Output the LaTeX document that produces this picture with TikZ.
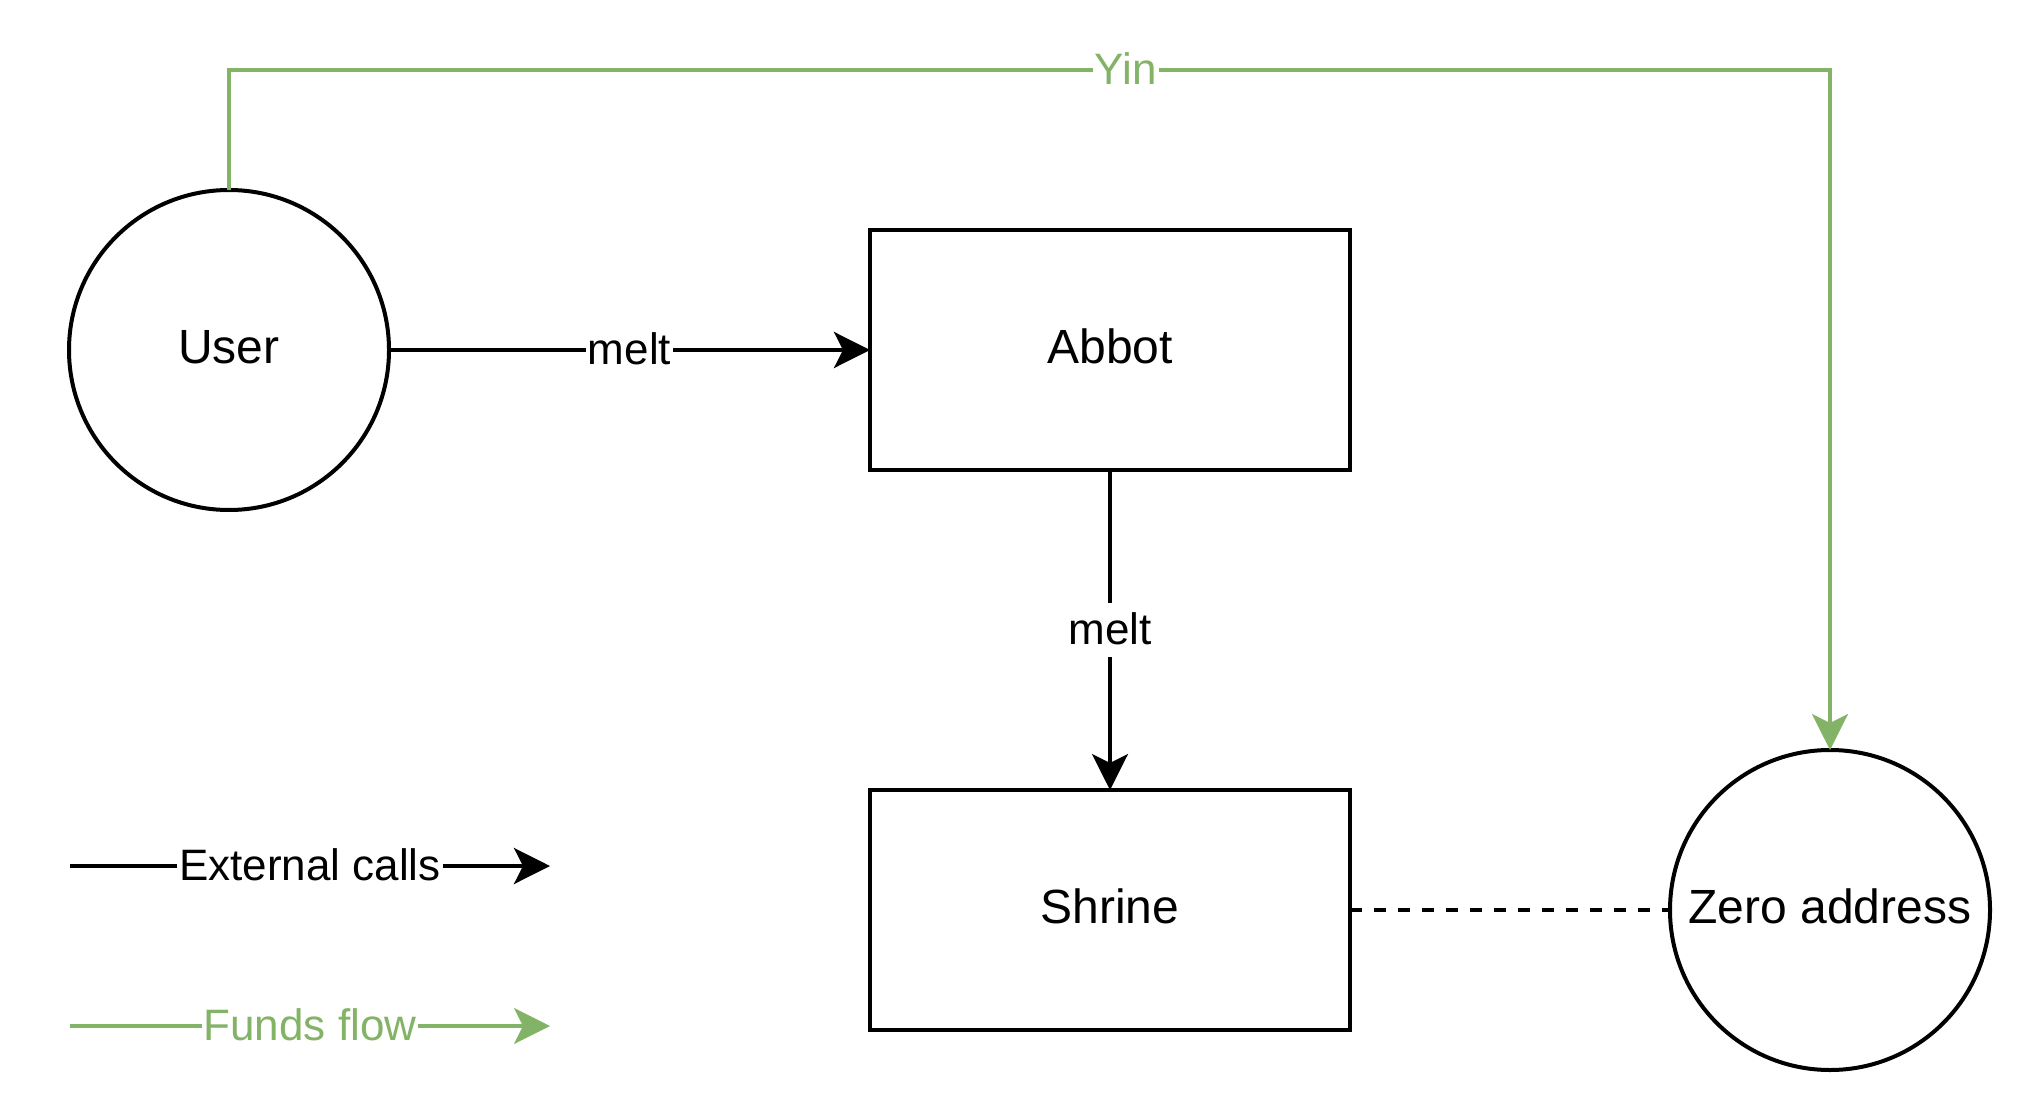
\documentclass[tikz,border=0pt]{standalone}
\usepackage{fontspec}
\setmainfont{Liberation Sans}
\usetikzlibrary{arrows.meta}
\definecolor{flowgreen}{HTML}{82B366}
\begin{document}
\begin{tikzpicture}[x=0.5pt,y=-0.5pt,
  every node/.style={inner sep=0pt, outer sep=0pt},
  actor/.style={circle, draw, line width=2pt, minimum size=160pt,
    text height=19.2pt, text depth=5.5pt, font=\fontsize{24}{28}\selectfont},
  contract/.style={rectangle, draw, line width=2pt, minimum width=240pt,
    minimum height=120pt, text height=19.2pt, text depth=5.5pt,
    font=\fontsize{24}{28}\selectfont},
  call/.style={line width=2pt, -{Stealth[length=18pt,width=18pt,inset=4.5pt]}},
  funds/.style={call, line width=1.6pt, draw=flowgreen},
  link/.style={line width=2pt, dash pattern=on 6pt off 6pt},
  lbl/.style={fill=white, inner xsep=1pt, inner ysep=3pt,
    text height=17.6pt, text depth=3pt, font=\fontsize{22}{26}\selectfont},
  glbl/.style={lbl, text=flowgreen},
]
\useasboundingbox (0,0) rectangle (2032,1112);

% participants
\node[actor] (user) at (229,350) {User};
\node[contract] (abbot) at (1110,350) {Abbot};
\node[contract] (shrine) at (1110,910) {Shrine};
\node[actor] (zero) at (1830,910) {Zero address};

% calls
\draw[call] (user) -- node[lbl] {melt} (abbot);
\draw[call, line width=1.7pt] (abbot) -- node[lbl] {melt} (shrine);
\draw[link] (shrine) -- (zero);

% funds routed over the top
\coordinate (yinL) at (229,70);
\coordinate (yinR) at (1830,70);
\draw[funds] (user.north) -- (yinL) -- node[glbl, pos=0.56] {Yin} (yinR) -- (zero.north);

% legend
\coordinate (extA) at (70,866);
\coordinate (extB) at (550,866);
\draw[call] (extA) -- node[lbl] {External calls} (extB);
\coordinate (fundA) at (70,1026);
\coordinate (fundB) at (550,1026);
\draw[funds] (fundA) -- node[glbl] {Funds flow} (fundB);
\end{tikzpicture}
\end{document}
